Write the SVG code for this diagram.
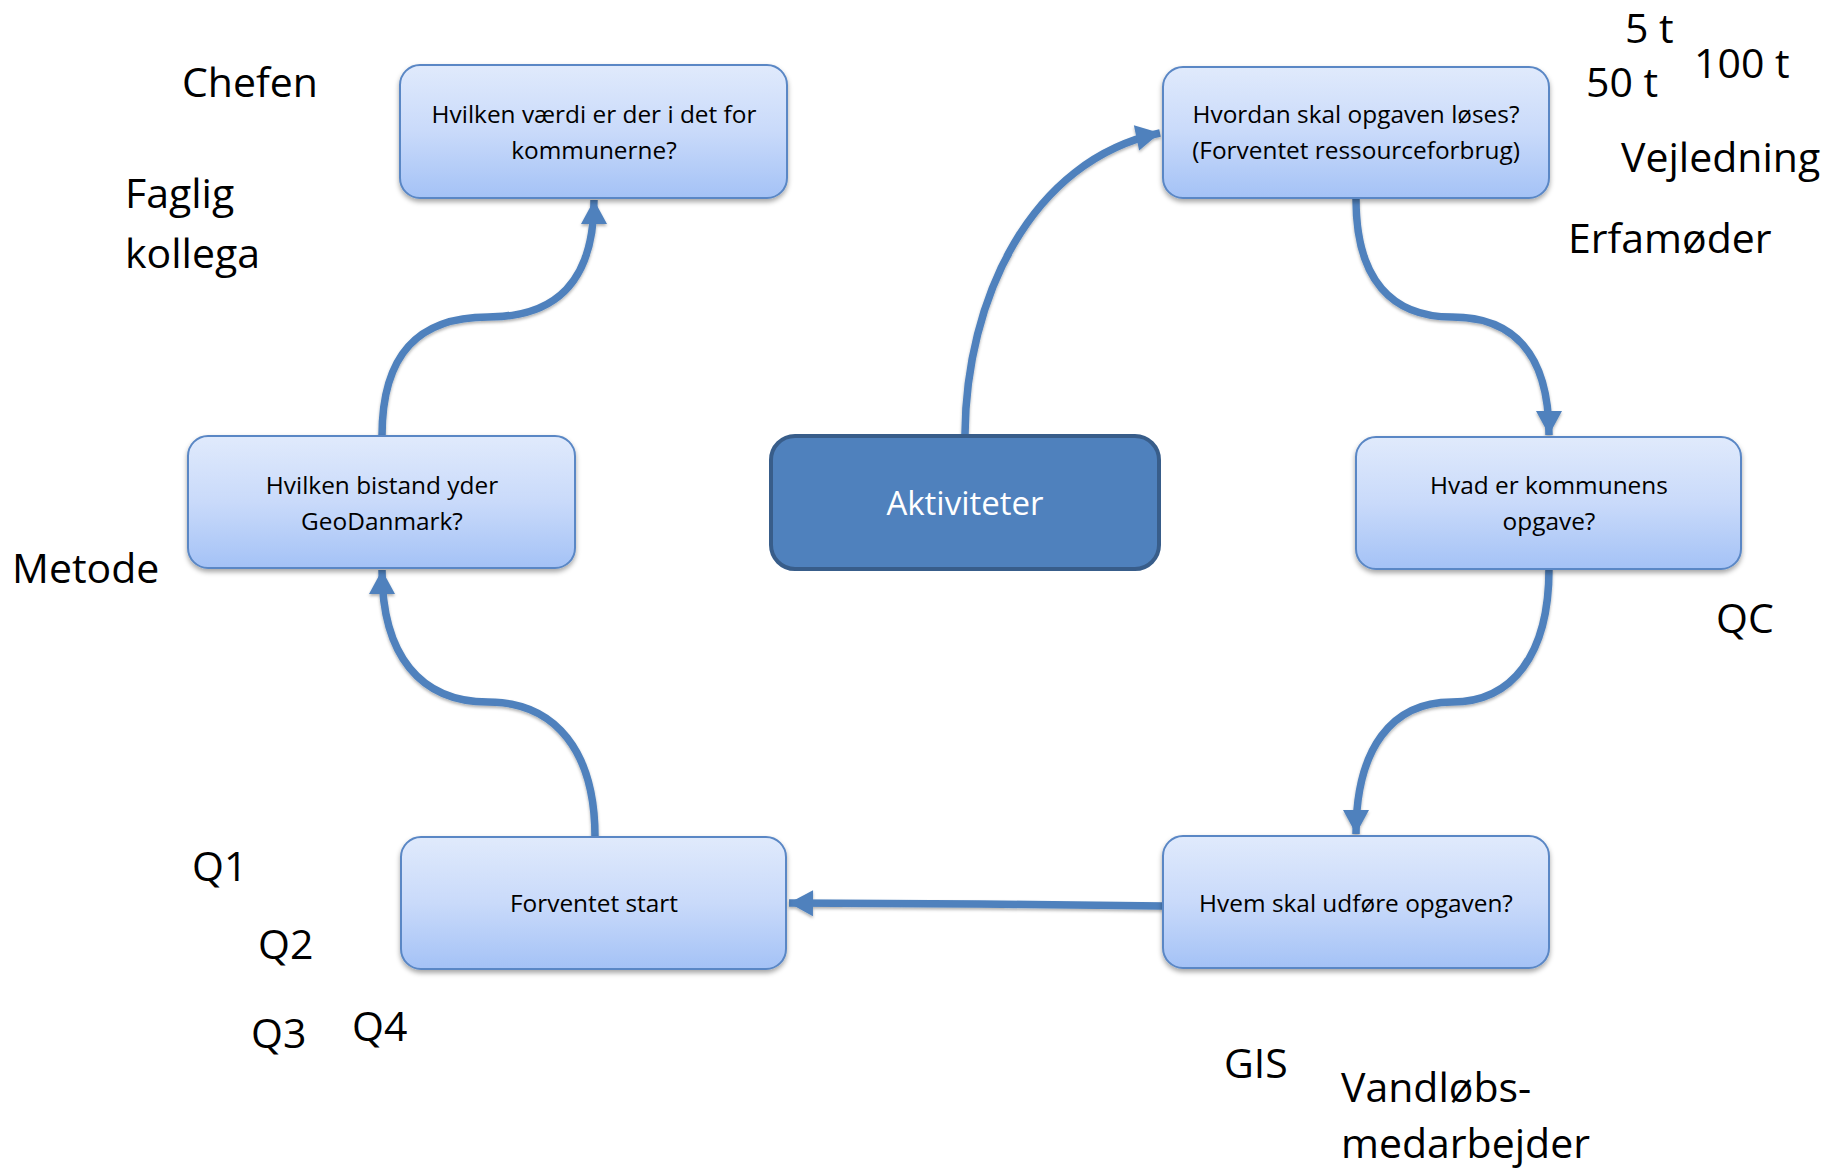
<svg xmlns="http://www.w3.org/2000/svg" width="1841" height="1170" viewBox="0 0 1841 1170">
<style>
.box{fill:url(#g);stroke:#5a87c5;stroke-width:2;filter:url(#sh)}
.nt{font-family:"Open Sans","Liberation Sans",sans-serif;font-size:24.4px;fill:#000;text-anchor:middle}
.lbl{font-family:"Open Sans","Liberation Sans",sans-serif;font-size:41px;fill:#000}
.con{fill:none;stroke:#4f81bd;stroke-width:7.5;filter:url(#sh2)}
</style>
<defs>
<linearGradient id="g" x1="0" y1="0" x2="0" y2="1">
<stop offset="0" stop-color="#e0eafc"/>
<stop offset="0.5" stop-color="#c9dafa"/>
<stop offset="1" stop-color="#a4c2f6"/>
</linearGradient>
<filter id="sh" x="-10%" y="-10%" width="120%" height="130%">
<feDropShadow dx="0" dy="3" stdDeviation="2.5" flood-color="#000" flood-opacity="0.35"/>
</filter>
<filter id="sh2" filterUnits="userSpaceOnUse" x="0" y="0" width="1841" height="1170">
<feDropShadow dx="0" dy="2" stdDeviation="1.5" flood-color="#000" flood-opacity="0.3"/>
</filter>
<marker id="ah" markerUnits="userSpaceOnUse" markerWidth="28" markerHeight="28" viewBox="0 0 28 28" refX="26" refY="14" orient="auto">
<path d="M2,1 L26,14 L2,27 Z" fill="#4f81bd"/>
</marker>
</defs>
<rect width="1841" height="1170" fill="#fff"/>

<g id="connectors">
<path class="con" d="M965,434 C966,300 1030,160 1160,133" marker-end="url(#ah)"/>
<path class="con" d="M1356,199 C1356,280 1392,317 1452,317 C1512,317 1549,352 1549,435" marker-end="url(#ah)"/>
<path class="con" d="M1549,569 C1549,655 1512,702 1452,702 C1392,702 1356,748 1356,834" marker-end="url(#ah)"/>
<path class="con" d="M1163,906 L980,904 L789,903" marker-end="url(#ah)"/>
<path class="con" d="M595,837 C595,752 556,702 488,702 C420,702 382,655 382,570" marker-end="url(#ah)"/>
<path class="con" d="M382,436 C382,352 420,317 488,317 C556,317 594,282 594,200" marker-end="url(#ah)"/>
</g>

<g id="n1">
<rect class="box" x="400" y="65" width="387" height="133" rx="20"/>
<text class="nt" x="594" y="123">Hvilken værdi er der i det for</text>
<text class="nt" x="594" y="159">kommunerne?</text>
</g>
<g id="n2">
<rect class="box" x="1163" y="67" width="386" height="131" rx="20"/>
<text class="nt" x="1356" y="123">Hvordan skal opgaven løses?</text>
<text class="nt" x="1356" y="159">(Forventet ressourceforbrug)</text>
</g>
<g id="n3">
<rect class="box" x="1356" y="437" width="385" height="132" rx="20"/>
<text class="nt" x="1549" y="494">Hvad er kommunens</text>
<text class="nt" x="1549" y="530">opgave?</text>
</g>
<g id="n4">
<rect class="box" x="1163" y="836" width="386" height="132" rx="20"/>
<text class="nt" x="1356" y="912">Hvem skal udføre opgaven?</text>
</g>
<g id="n5">
<rect class="box" x="401" y="837" width="385" height="132" rx="20"/>
<text class="nt" x="594" y="912">Forventet start</text>
</g>
<g id="n6">
<rect class="box" x="188" y="436" width="387" height="132" rx="20"/>
<text class="nt" x="382" y="494">Hvilken bistand yder</text>
<text class="nt" x="382" y="530">GeoDanmark?</text>
</g>
<g id="center">
<rect x="771" y="436" width="388" height="133" rx="24" fill="#4f81bd" stroke="#385d8a" stroke-width="4"/>
<text x="965" y="515" font-family="'Open Sans','Liberation Sans',sans-serif" font-size="33" fill="#fff" text-anchor="middle">Aktiviteter</text>
</g>

<g id="labels">
<text class="lbl" x="182" y="97">Chefen</text>
<text class="lbl" x="125" y="208">Faglig</text>
<text class="lbl" x="125" y="268">kollega</text>
<text class="lbl" x="12" y="583">Metode</text>
<text class="lbl" x="192" y="881">Q1</text>
<text class="lbl" x="258" y="959">Q2</text>
<text class="lbl" x="251" y="1048">Q3</text>
<text class="lbl" x="352" y="1041">Q4</text>
<text class="lbl" x="1224" y="1078">GIS</text>
<text class="lbl" x="1341" y="1102">Vandløbs-</text>
<text class="lbl" x="1341" y="1158">medarbejder</text>
<text class="lbl" x="1716" y="633">QC</text>
<text class="lbl" x="1625" y="43">5 t</text>
<text class="lbl" x="1586" y="97">50 t</text>
<text class="lbl" x="1694" y="78">100 t</text>
<text class="lbl" x="1621" y="172">Vejledning</text>
<text class="lbl" x="1568" y="253">Erfamøder</text>
</g>
</svg>
